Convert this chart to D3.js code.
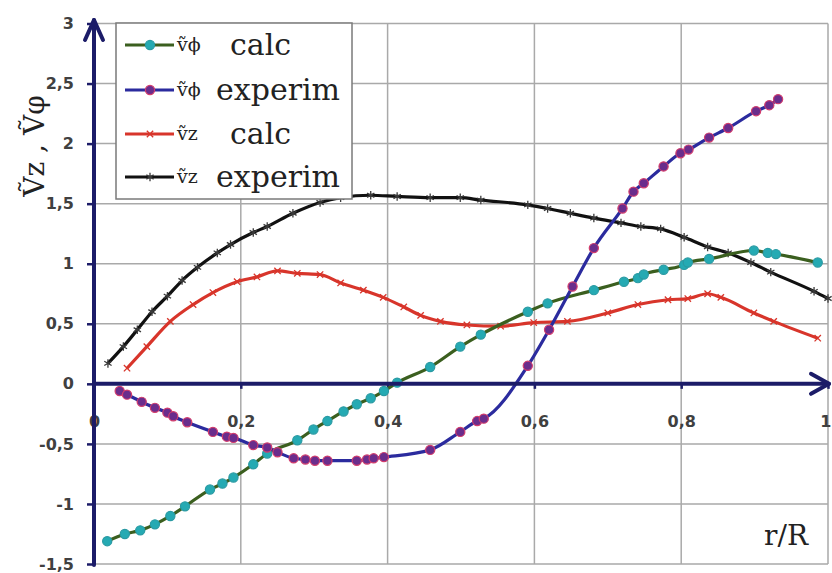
<!DOCTYPE html>
<html>
<head>
<meta charset="utf-8">
<script src="https://cdn.jsdelivr.net/npm/d3@7"></script>
<style>
  html, body { margin: 0; padding: 0; background: #fff; }
  svg { display: block; }
</style>
</head>
<body>
<svg id="chart" width="832" height="573"></svg>
<script>
// Radial profiles of the velocity amplitudes against r/R
const vPhiCalcX = [0.018,0.042,0.063,0.083,0.104,0.124,0.158,0.175,0.19,0.217,0.236,0.277,0.299,0.318,0.34,0.358,0.377,0.395,0.413,0.458,0.499,0.527,0.591,0.618,0.681,0.722,0.741,0.749,0.776,0.804,0.809,0.838,0.899,0.918,0.929,0.986];
const vPhiCalcY = [-1.31,-1.25,-1.22,-1.17,-1.10,-1.02,-0.88,-0.83,-0.78,-0.67,-0.58,-0.47,-0.38,-0.31,-0.23,-0.17,-0.12,-0.06,0.01,0.14,0.31,0.41,0.60,0.67,0.78,0.85,0.88,0.91,0.95,0.99,1.01,1.04,1.11,1.09,1.08,1.01];

const vPhiExpX = [0.035,0.045,0.065,0.083,0.1,0.108,0.127,0.162,0.181,0.19,0.217,0.236,0.25,0.272,0.288,0.301,0.318,0.358,0.372,0.381,0.395,0.458,0.499,0.522,0.531,0.591,0.62,0.652,0.681,0.72,0.735,0.749,0.776,0.799,0.81,0.838,0.864,0.902,0.92,0.932];
const vPhiExpY = [-0.06,-0.09,-0.15,-0.20,-0.24,-0.27,-0.32,-0.40,-0.44,-0.45,-0.51,-0.53,-0.57,-0.62,-0.63,-0.64,-0.64,-0.64,-0.63,-0.62,-0.61,-0.55,-0.40,-0.31,-0.29,0.15,0.45,0.81,1.13,1.46,1.60,1.67,1.81,1.92,1.95,2.05,2.13,2.27,2.32,2.37];

const vzCalcX = [0.045,0.072,0.104,0.135,0.162,0.195,0.222,0.25,0.277,0.308,0.336,0.367,0.394,0.422,0.445,0.472,0.508,0.554,0.599,0.645,0.70,0.741,0.782,0.809,0.836,0.854,0.899,0.926,0.986];
const vzCalcY = [0.13,0.31,0.52,0.66,0.76,0.85,0.89,0.94,0.92,0.91,0.84,0.78,0.72,0.64,0.57,0.52,0.49,0.48,0.51,0.52,0.59,0.66,0.70,0.71,0.75,0.72,0.59,0.52,0.38];

const vzExpX = [0.019,0.040,0.059,0.079,0.100,0.120,0.141,0.168,0.186,0.217,0.236,0.271,0.308,0.336,0.377,0.413,0.458,0.499,0.527,0.591,0.618,0.649,0.681,0.718,0.745,0.772,0.804,0.836,0.864,0.895,0.922,0.981,1.0];
const vzExpY = [0.17,0.31,0.45,0.60,0.73,0.86,0.97,1.09,1.16,1.26,1.31,1.42,1.51,1.55,1.57,1.56,1.55,1.55,1.53,1.49,1.46,1.42,1.38,1.34,1.31,1.29,1.22,1.14,1.09,1.01,0.93,0.77,0.71];

const xTicks = [0, 0.2, 0.4, 0.6, 0.8, 1];
const yTicks = [-1.5, -1, -0.5, 0, 0.5, 1, 1.5, 2, 2.5, 3];
const legendSymbols = ["ṽϕ", "ṽϕ", "ṽz", "ṽz"];
const legendWords = ["calc", "experim", "calc", "experim"];

const zip = (xs, ys) => xs.map((x, i) => ({ x, y: ys[i] }));

const series = [
  { key: "phiCalc", data: zip(vPhiCalcX, vPhiCalcY), line: "#3b5f1f", marker: "circle", fill: "#25aab3", stroke: "#2a9aa3" },
  { key: "phiExp",  data: zip(vPhiExpX, vPhiExpY),   line: "#2b2b9e", marker: "circle", fill: "#6a2d8c", stroke: "#d23c6c" },
  { key: "zCalc",   data: zip(vzCalcX, vzCalcY),     line: "#d8352b", marker: "times",  fill: "none",    stroke: "#d8352b" },
  { key: "zExp",    data: zip(vzExpX, vzExpY),       line: "#111111", marker: "aster",  fill: "none",    stroke: "#3a3a3a" }
];

const svg = d3.select("#chart");
const x = d3.scaleLinear().domain([0, 1]).range([94, 828]);
const y = d3.scaleLinear().domain([-1.5, 3]).range([564, 23.5]);
const navy = "#1c1c68";
const fmt = d => String(d).replace(".", ",");

// grid
const grid = svg.append("g").attr("stroke", "#a9a9a9").attr("stroke-width", 1.5);
grid.selectAll("line.h").data(yTicks).join("line")
  .attr("x1", x(0)).attr("x2", x(1)).attr("y1", d => y(d)).attr("y2", d => y(d));
grid.selectAll("line.v").data(xTicks.slice(1)).join("line")
  .attr("x1", d => x(d)).attr("x2", d => x(d)).attr("y1", y(3)).attr("y2", y(-1.5));

// y axis ticks and labels
const yAxis = svg.append("g").attr("transform", `translate(${x(0)},0)`)
  .call(d3.axisLeft(y).tickValues(yTicks).tickFormat(fmt).tickSize(7).tickPadding(13));
yAxis.select(".domain").remove();
yAxis.selectAll(".tick line").attr("stroke", navy).attr("stroke-width", 2.5);
yAxis.selectAll(".tick text").attr("fill", "#404040")
  .style("font-family", "DejaVu Sans").style("font-size", "16px").style("font-weight", "bold");

// x axis ticks and labels (axis sits on the zero line)
const xAxis = svg.append("g").attr("transform", `translate(0,${y(0)})`)
  .call(d3.axisBottom(x).tickValues(xTicks).tickFormat(fmt).tickSize(5).tickPadding(27));
xAxis.select(".domain").remove();
xAxis.selectAll(".tick line").attr("stroke", navy).attr("stroke-width", 2.5);
xAxis.selectAll(".tick text").attr("fill", "#404040")
  .style("font-family", "DejaVu Sans").style("font-size", "16px").style("font-weight", "bold");
// keep the last label inside the page edge
xAxis.selectAll(".tick text").filter(d => d === 1).attr("text-anchor", "end").attr("x", 3);

// series lines and markers
const line = d3.line().x(d => x(d.x)).y(d => y(d.y)).curve(d3.curveMonotoneX);
const symbolPath = {
  times: d3.symbol(d3.symbolTimes, 28)(),
  aster: d3.symbol(d3.symbolAsterisk, 50)()
};

function drawMarker(sel, s) {
  if (s.marker === "circle") {
    sel.append("circle").attr("r", 4.6).attr("fill", s.fill)
      .attr("stroke", s.stroke).attr("stroke-width", 1.2);
  } else {
    sel.append("path").attr("d", symbolPath[s.marker]).attr("fill", "none")
      .attr("stroke", s.stroke).attr("stroke-width", 1.3);
  }
}

// draw order: black, red, green, purple on top
const order = ["zExp", "zCalc", "phiCalc", "phiExp"];
order.forEach(k => {
  const s = series.find(t => t.key === k);
  const g = svg.append("g");
  g.append("path").datum(s.data).attr("d", line)
    .attr("fill", "none").attr("stroke", s.line).attr("stroke-width", 3.2)
    .attr("stroke-linejoin", "round");
  g.selectAll("g.m").data(s.data).join("g")
    .attr("transform", d => `translate(${x(d.x)},${y(d.y)})`)
    .each(function () { drawMarker(d3.select(this), s); });
});

// axis lines with arrowheads
const axes = svg.append("g").attr("stroke", navy).attr("stroke-width", 4)
  .attr("fill", "none").attr("stroke-linecap", "round").attr("stroke-linejoin", "round");
axes.append("line").attr("x1", x(0)).attr("x2", x(0)).attr("y1", y(-1.5) + 1).attr("y2", 20);
axes.append("polyline").attr("points", `${x(0) - 9},40 ${x(0)},20 ${x(0) + 9},40`);
axes.append("line").attr("x1", x(0)).attr("x2", 829).attr("y1", y(0)).attr("y2", y(0));
axes.append("polyline").attr("points", `811,${y(0) - 10} 829,${y(0)} 811,${y(0) + 10}`);

// axis titles
svg.append("text").attr("x", 808).attr("y", 545).attr("text-anchor", "end")
  .style("font-family", "DejaVu Serif").style("font-size", "28px").attr("fill", "#222")
  .text("r/R");
svg.append("text").attr("transform", "translate(44,146) rotate(-90)").attr("text-anchor", "middle")
  .style("font-family", "DejaVu Serif").style("font-size", "28px").attr("fill", "#222")
  .text("Ṽz , Ṽφ");

// legend
const legend = svg.append("g");
legend.append("rect").attr("x", 116).attr("y", 23).attr("width", 236).attr("height", 176)
  .attr("fill", "#fff").attr("stroke", "#7a7a7a").attr("stroke-width", 1.5);
const rowY = [45, 90, 134, 177];
const wordX = [230, 216, 230, 216];
series.forEach((s, i) => {
  const g = legend.append("g");
  g.append("line").attr("x1", 125).attr("x2", 174).attr("y1", rowY[i]).attr("y2", rowY[i])
    .attr("stroke", s.line).attr("stroke-width", 3.2);
  const m = g.append("g").attr("transform", `translate(150,${rowY[i]})`);
  drawMarker(m, s);
  g.append("text").attr("x", 177).attr("y", rowY[i] + 6)
    .style("font-family", "DejaVu Serif").style("font-size", "19px").attr("fill", "#222")
    .text(legendSymbols[i]);
  g.append("text").attr("x", wordX[i]).attr("y", rowY[i] + 10)
    .style("font-family", "DejaVu Serif").style("font-size", "30px").attr("fill", "#222")
    .text(legendWords[i]);
});
</script>
</body>
</html>
